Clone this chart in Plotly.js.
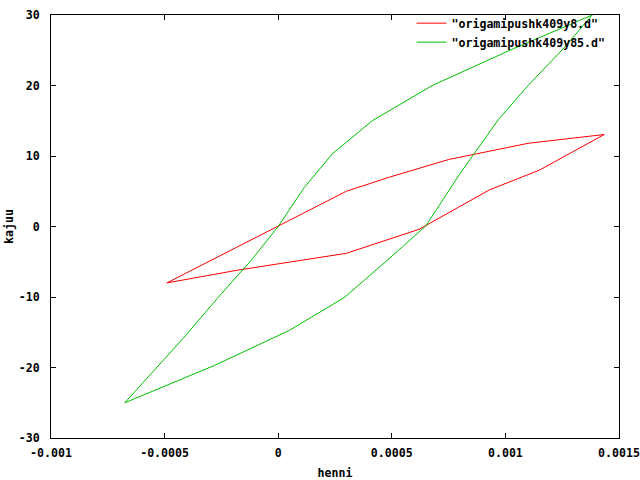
<!DOCTYPE html>
<html>
<head>
<meta charset="utf-8">
<script src="https://cdn.plot.ly/plotly-3.0.1.min.js"></script>
<style>html,body{margin:0;padding:0;background:#fff;}#plot{width:640px;height:480px;}</style>
</head>
<body>
<div id="plot"></div>
<script>
// Series 1: "origamipushk409y8.d"
const redX = [-0.00049, 0.0, 0.0003, 0.00049, 0.00075, 0.0011, 0.001435, 0.00115, 0.00093, 0.00062, 0.0003, -0.00018, -0.00049];
const redY = [-8, 0.0, 5.0, 7.0, 9.5, 11.8, 13.05, 8.0, 5.2, -0.4, -3.8, -6.2, -8];
// Series 2: "origamipushk409y85.d"
const greenX = [-0.000675, -0.00028, 0.000048, 0.00029, 0.00048, 0.00065, 0.0008, 0.00097, 0.0011, 0.00126, 0.001382,
                0.00102, 0.000678, 0.000414, 0.000238, 0.000114, 0.0, -0.000119, -0.000268, -0.000414, -0.000675];
const greenY = [-25, -19.7, -14.75, -10.1, -4.8, 0.1, 7.5, 15.2, 20.0, 25.4, 30,
                25.0, 20.0, 15.0, 10.3, 5.5, 0.0, -4.8, -10.2, -15.7, -25];
const seriesNames = ['"origamipushk409y8.d"', '"origamipushk409y85.d"'];
const xTickVals = [-0.001, -0.0005, 0, 0.0005, 0.001, 0.0015];
const xTickText = ["-0.001", "-0.0005", "0", "0.0005", "0.001", "0.0015"];
const yTickVals = [-30, -20, -10, 0, 10, 20, 30];
const yTickText = ["-30", "-20", "-10", "0", "10", "20", "30"];

const font = {family: "DejaVu Sans Mono, monospace", size: 11.6, color: "#000", weight: "bold"};

const data = [
  {x: redX, y: redY, mode: "lines", name: seriesNames[0], line: {color: "#ff0000", width: 1}},
  {x: greenX, y: greenY, mode: "lines", name: seriesNames[1], line: {color: "#00c000", width: 1}}
];

const axisCommon = {
  showgrid: false, zeroline: false, showline: true, linecolor: "#000", linewidth: 1,
  mirror: "ticks", ticks: "inside", ticklen: 5, tickcolor: "#000", tickfont: font,
  automargin: false
};

const layout = {
  width: 640, height: 480,
  margin: {l: 51, r: 21, t: 15, b: 42, autoexpand: false},
  paper_bgcolor: "#fff", plot_bgcolor: "#fff",
  font: font,
  showlegend: true,
  legend: {x: 0.985, y: 1.015, xanchor: "right", yanchor: "top", bgcolor: "rgba(0,0,0,0)",
           font: font, tracegroupgap: 0, itemwidth: 30},
  xaxis: Object.assign({}, axisCommon, {
    range: [-0.001, 0.0015], tickvals: xTickVals, ticktext: xTickText,
    ticklabelstandoff: 4,
    title: {text: "henni", font: font, standoff: 10}
  }),
  yaxis: Object.assign({}, axisCommon, {
    range: [-30, 30], tickvals: yTickVals, ticktext: yTickText,
    ticklabelstandoff: 8,
    title: {text: "kajuu", font: font, standoff: 2}
  })
};

Plotly.newPlot("plot", data, layout, {displayModeBar: false, staticPlot: true});
</script>
</body>
</html>
